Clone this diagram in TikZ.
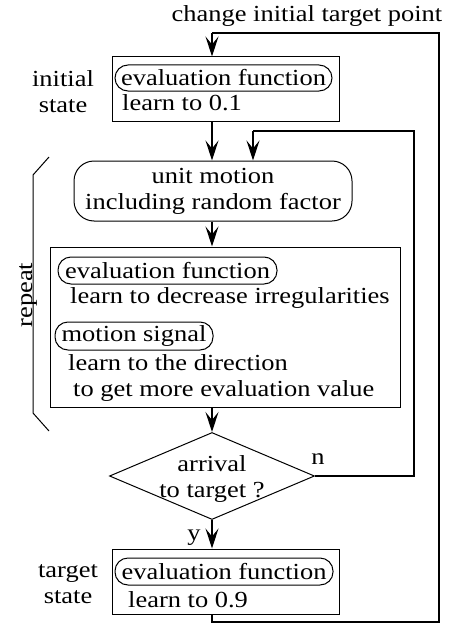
\documentclass[tikz,border=0pt]{standalone}
\usepackage{fontspec}
\setmainfont[FakeStretch=1.15]{Liberation Serif}
\usetikzlibrary{arrows.meta,shapes.geometric}
\begin{document}
\begin{tikzpicture}
            [x=1pt,y=-1pt,
             every node/.style={font=\fontsize{23}{26}\selectfont,inner sep=0pt},
             box/.style={draw=black,line width=1pt},
             pill/.style={draw=black,line width=1pt,rounded corners=13pt},
             arrow/.style={line width=1.3pt,-{Stealth[length=20pt,width=13pt,inset=8pt]}},
             loopline/.style={line width=1.7pt}]
            \useasboundingbox (0,0) rectangle (455,634);

            % title and side labels
            \node[anchor=base] (chg) at (307,22) {change initial target point};
            \node[align=center] (initlbl) at (63,92) {initial\\state};
            \node[align=center] (tgtlbl) at (68,584) {target\\state};
            \node[rotate=90,anchor=base] (rep) at (32,295) {repeat};

            % initial state
            \node[box,minimum width=227pt,minimum height=64pt] (init) at (225.5,89) {};
            \node[pill,minimum width=217pt,minimum height=26pt] (ev1) at (223.5,78) {evaluation function};
            \node[anchor=base west] (l1) at (122,110) {learn to 0.1};

            % unit motion
            \node[draw=black,line width=1pt,rounded corners=20pt,minimum width=278pt,minimum height=60pt,align=center] (unit) at (213,191) {unit motion\\including random factor};

            % learning box
            \node[box,minimum width=350pt,minimum height=160pt] (learn) at (225,327) {};
            \node[pill,minimum width=219pt,minimum height=27pt] (ev2) at (167.5,270.5) {evaluation function};
            \node[anchor=base west] (l2) at (70,303) {learn to decrease irregularities};
            \node[pill,minimum width=158pt,minimum height=28pt] (mot) at (134,336) {motion signal};
            \node[anchor=base west] (l3) at (68,370) {learn to the direction};
            \node[anchor=base west] (l4) at (73,396) {to get more evaluation value};

            % decision
            \node[diamond,draw=black,line width=1pt,minimum width=205pt,minimum height=87pt] (arr) at (212,476) {};
            \node[align=center] (arrtxt) at (212,479) {arrival\\to target ?};
            \node[anchor=base] (n) at (318,464) {n};
            \node[anchor=base] (y) at (194,540) {y};

            % target state
            \node[box,minimum width=227pt,minimum height=65pt] (tgt) at (225.5,581.5) {};
            \node[pill,minimum width=218pt,minimum height=27pt] (ev3) at (224,571.5) {evaluation function};
            \node[anchor=base west] (l5) at (128,607) {learn to 0.9};

            % repeat bracket
            \draw[line width=1pt] (49,157) -- (33,175) -- (33,413) -- (49,431);

            % loops
            \coordinate (lb) at (212,622);
            \coordinate (rb) at (439,622);
            \coordinate (rt) at (439,33);
            \coordinate (lt) at (212,33);
            \coordinate (nr) at (414,131);
            \coordinate (nl) at (253,131);
            \draw[loopline] (tgt.south -| lb) -- (lb) -- (rb) -- (rt) -- (lt);
            \draw[loopline] (arr.east) -| (nr) -- (nl);

            \draw[arrow] (lt) -- (init.north -| lt);
            \draw[arrow] (init.south -| arr.north) -- (unit.north -| arr.north);
            \draw[arrow] (nl) -- (unit.north -| nl);
            \draw[arrow] (unit.south -| arr.north) -- (learn.north -| arr.north);
            \draw[arrow] (learn.south -| arr.north) -- (arr.north);
            \draw[arrow] (arr.south) -- (tgt.north -| arr.south);
\end{tikzpicture}
\end{document}
